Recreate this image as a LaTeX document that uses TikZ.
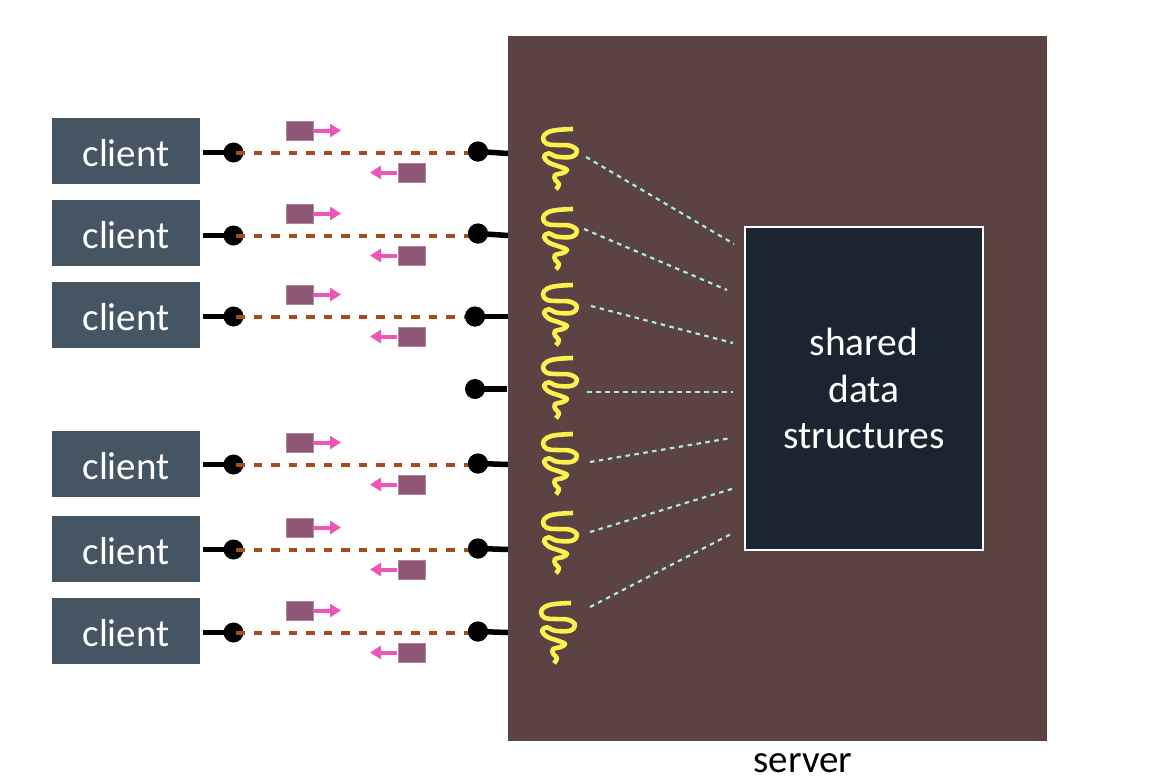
\documentclass[tikz,border=0pt]{standalone}
\usepackage{fontspec}
\setmainfont{Carlito}
\usetikzlibrary{arrows.meta}
\definecolor{srv}{HTML}{5B4343}
\definecolor{clnt}{HTML}{465564}
\definecolor{shrd}{HTML}{1A2531}
\definecolor{conn}{HTML}{A84A1E}
\definecolor{msg}{HTML}{8E5575}
\definecolor{pnk}{HTML}{EE55B5}
\definecolor{yel}{HTML}{FDF04F}
\definecolor{mnt}{HTML}{A9EDD2}
\tikzset{
  x=1pt,y=-1pt,
  clientbox/.style={fill=clnt,minimum width=148pt,minimum height=66pt,inner sep=0pt,text=white,font=\fontsize{39}{43}\selectfont},
  sock/.style={circle,fill=black,minimum size=20pt,inner sep=0pt},
  stub/.style={line width=5.5pt,black},
  link/.style={line width=4pt,conn,dash pattern=on 8.7pt off 8.8pt},
  msgbox/.style={fill=msg,draw=msg!70!white,line width=0.6pt,minimum width=27pt,minimum height=19pt,inner sep=0pt},
  flow/.style={line width=4pt,pnk,-{Triangle[length=11pt,width=13pt]}},
  tie/.style={line width=2.2pt,mnt,dash pattern=on 4.5pt off 4.5pt},
  pics/squig/.style={code={
    \draw[yel,line width=4.6pt,line join=round] plot[smooth,tension=0.65] coordinates {
      (0,0) (-16,1) (-26,3.7) (-30,9.3) (-26,15) (-16,16) (-3,16.7) (4,21.7) (-1,27.7) (-16,27.7)
      (-24,24.3) (-29,27.7) (-24,33.7) (-13,37.7) (-6,41) (-11,44.3) (-18,46) (-17.7,51) (-14,55) (-17,60.3)};
  }}
}
\begin{document}
\begin{tikzpicture}
\useasboundingbox (0,0) rectangle (1160,780);
\fill[white] (0,0) rectangle (1160,780);
\node[fill=srv,minimum width=539pt,minimum height=705pt,inner sep=0pt] (server) at (777.5,388.5) {};
\node[font=\fontsize{39}{43}\selectfont] (serverlabel) at (803,763) {server};
\node[fill=shrd,draw=white,line width=2pt,minimum width=238pt,minimum height=323pt,inner sep=0pt,text=white,align=center,font=\fontsize{39.5}{46.5}\selectfont] (shared) at (864,388.5) {shared\\data\\structures};
\foreach \i/\cy/\ly/\rx/\ry/\ey/\sx/\sy in {
  1/151/152.5/478/151.5/153.5/573/129,
  2/233/235.5/478/233.5/235.5/573/209,
  3/315/316.5/475/316.5/316.5/573/285,
  5/464/464.5/478/463.5/464.5/573/434,
  6/549/549.5/478/548.5/549.5/573/513,
  7/631/632.5/478/631.5/632.5/571/603}{
  \node[clientbox] (c\i) at (126,\cy) {\raisebox{-8.6pt}[20pt][6pt]{client}};
  \node[sock] (ls\i) at (233.5,\ly) {};
  \node[sock] (rs\i) at (\rx,\ry) {};
  \coordinate (ce\i) at (203,\ly);
  \coordinate (se\i) at (508,\ey);
  \draw[stub] (ce\i) -- (ls\i.center);
  \draw[stub] (rs\i.center) -- (se\i);
  \coordinate (ds\i) at (236,\ly);
  \coordinate (de\i) at (\rx,\ly);
  \draw[link] (ds\i) -- (de\i);
  \node[sock] at (\rx,\ry) {};
  \node[msgbox] (mt\i) at (299.5,\ly-22) {};
  \coordinate (at\i) at (341,\ly-22);
  \draw[flow] (mt\i.east) ++(1,0) -- (at\i);
  \node[msgbox] (mb\i) at (411.5,\ly+20) {};
  \coordinate (ab\i) at (370,\ly+20);
  \draw[flow] (mb\i.west) ++(-1,0) -- (ab\i);
  \pic at (\sx,\sy) {squig};
}
\node[sock] (rs4) at (475,389) {};
\coordinate (se4) at (507,389);
\draw[stub] (rs4.center) -- (se4);
\pic at (573,358) {squig};
\foreach \n/\xa/\ya/\xb/\yb in {
  a/586/157/734/244,
  b/584/229/727/290,
  c/591/306/733/343,
  d/587/392/733/392,
  e/590/462/731/438,
  f/590/532/735/488,
  g/590/607/733/533}{
  \coordinate (t\n) at (\xa,\ya);
  \coordinate (u\n) at (\xb,\yb);
  \draw[tie] (t\n) -- (u\n);
}
\end{tikzpicture}
\end{document}
